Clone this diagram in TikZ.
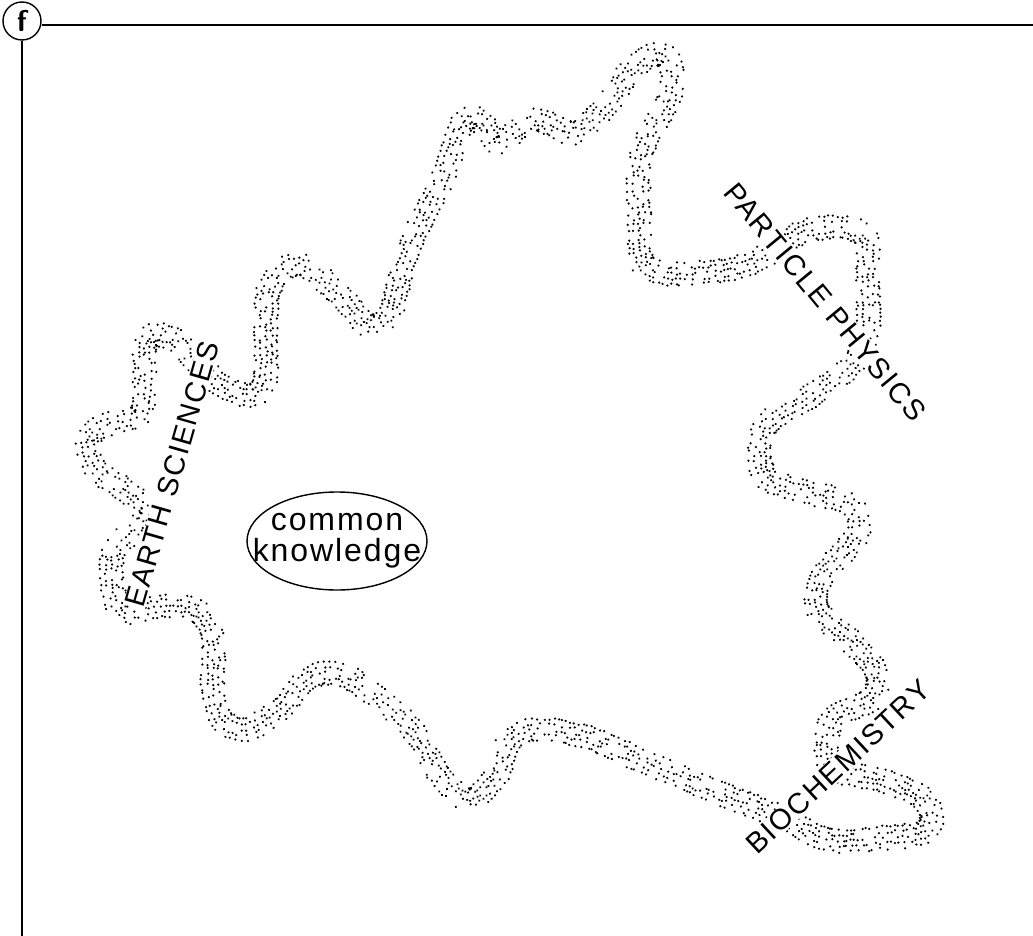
\documentclass[tikz,border=0pt]{standalone}
\usepackage{fontspec}
\newfontfamily\lblfont[LetterSpace=6]{Liberation Sans}
\usetikzlibrary{decorations.markings,shapes.geometric}

% scatter of small dots across the width of a path
\newcommand\speckle{%
  \foreach \o in {-11,-5.5,0,5.5,11}{%
    \pgfmathsetmacro\keep{rnd}%
    \ifdim\keep pt<0.62pt
      \fill ({rand*1.3pt},{\o*1pt+rand*1.3pt}) circle (1.25pt);
    \fi}}

\tikzset{
  frame/.style={line width=1.6pt},
  stipple/.style={decorate,decoration={markings,
      mark=between positions 0 and 1 step 4pt with {\speckle}}},
  label/.style={font=\lblfont\fontsize{29}{31}\selectfont,fill=white,inner sep=1pt},
}

\begin{document}
\begin{tikzpicture}[x=1pt,y=-1pt]
\useasboundingbox (0,0) rectangle (1033,936);
\fill[white] (0,0) rectangle (1033,936);
\pgfmathsetseed{7}

% panel letter and frame
\node[circle,draw,line width=1.4pt,minimum size=38pt,inner sep=0pt,
      font=\sffamily\bfseries\fontsize{30}{30}\selectfont] (tag) at (22,21) {f};
\coordinate (tr) at (1033,25);
\coordinate (bl) at (22,936);
\draw[frame] (tag.east |- tr) -- (tr);
\draw[frame] (tag.south) -- (bl);

% the boundary of common knowledge
\path[stipple] plot[smooth cycle,tension=0.5] coordinates {
 (155,335) (175,340) (200,365) (225,388) (255,395) (266,375) (266,330) (268,292)
 (285,268) (305,266) (335,290) (370,326) (392,308) (403,265) (423,217) (443,177)
 (463,122) (480,120) (497,143) (520,128) (540,120) (573,133) (600,113) (615,95)
 (630,70) (655,54) (670,62) (670,98) (650,132) (639,165) (639,220) (642,262)
 (665,273) (710,272) (753,263) (800,233) (837,227) (866,238) (868,290) (867,335)
 (847,370) (805,400) (765,427) (764,475) (807,492) (852,505) (857,535) (822,577)
 (817,610) (850,640) (878,675) (870,700) (835,715) (827,740) (832,768) (880,780)
 (918,795) (932,815) (922,833) (880,838) (830,840) (780,817) (700,785) (640,760)
 (597,740) (563,732) (530,730) (507,745) (497,775) (470,800) (440,775) (420,740)
 (393,710) (353,680) (323,673) (300,685) (280,710) (245,730) (222,720) (213,690)
 (213,640) (200,612) (165,605) (125,612) (113,590) (113,555) (128,535) (152,510)
 (125,490) (95,468) (88,440) (105,425) (140,415) (145,380) (145,345)};

% field names along the boundary
\node[label,rotate=74]    (earth) at (172,474) {EARTH SCIENCES};
\node[label,rotate=-50.5] (part)  at (825,302) {PARTICLE PHYSICS};
\node[label,rotate=43]    (bio)   at (838,767) {BIOCHEMISTRY};

% core: fixed ellipse, text may run past its rim
\node[ellipse,draw,line width=1.4pt,minimum width=180pt,minimum height=98pt,
      inner sep=0pt] (core) at (337,541) {};
\node[align=center,inner sep=0pt,font=\lblfont\fontsize{32}{31}\selectfont]
      (coretext) at (core.center) {common\\knowledge};
\end{tikzpicture}
\end{document}
